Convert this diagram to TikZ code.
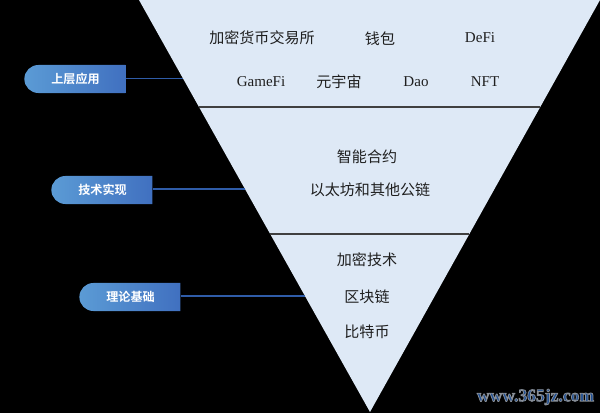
\documentclass[tikz,border=0pt]{standalone}
\usepackage{fontspec}
\setmainfont{Liberation Serif}
\newfontfamily\cjk{Noto Sans CJK SC}[BoldFont={* Bold}]
\usetikzlibrary{positioning,calc,shapes.misc}
\definecolor{paleblue}{HTML}{DEE9F6}
\definecolor{linkblue}{HTML}{2F5CA8}
\definecolor{pillleft}{HTML}{5B9BD5}
\definecolor{pillright}{HTML}{4070C0}
\definecolor{markblue}{HTML}{1F4F94}
\newcommand{\greyedge}[1]{\special{pdf:code q 2 Tr 0.55 w 0.54 0.56 0.59 RG}#1\special{pdf:code Q}}
\tikzset{
	layer/.style={rounded rectangle,rounded rectangle right arc=none,
		left color=pillleft,right color=pillright,
		minimum width=2.525cm,minimum height=0.7cm,inner sep=0pt,
		text=white,font=\cjk\fontsize{8.6}{10}\selectfont\bfseries},
	item/.style={inner sep=0pt,text=black!88,font=\fontsize{10.7}{13}\selectfont},
	citem/.style={item,font=\cjk\fontsize{10.7}{13}\selectfont},
	link/.style={linkblue,line width=0.9pt},
	divider/.style={black!75,line width=0.8pt}
}
\begin{document}
\begin{tikzpicture}[x=0.025cm,y=-0.025cm]
	\fill[black] (0,0) rectangle (600,413);
	\useasboundingbox (0,0) rectangle (600,413);
	\fill[paleblue] (139,0) -- (600,0) -- (370,412) -- cycle;

	% left edge of the funnel
	\coordinate (E1) at (183,78.5);
	\coordinate (E2) at (245,189);
	\coordinate (E3) at (305,296);
	% dividers
	\coordinate (D1) at (199,107);
	\coordinate (D2) at (540,107);
	\coordinate (D3) at (270,234);
	\coordinate (D4) at (469,234);

	\node[layer] (L1) at (75.5,79) {上层应用};
	\node[layer] (L2) at (102.5,190) {技术实现};
	\node[layer] (L3) at (130.5,297) {理论基础};

	\draw[link] (L1.east |- E1) -- (E1);
	\draw[link] (L2.east |- E2) -- (E2);
	\draw[link] (L3.east |- E3) -- (E3);
	\draw[divider] (D1) -- (D2);
	\draw[divider] (D3) -- (D4);

	\node[citem] (A1) at (262,37.5) {加密货币交易所};
	\node[citem] (A2) at (380,38.5) {钱包};
	\node[item]  (A3) at (480,38) {DeFi};
	\node[item]  (A4) at (261,82) {GameFi};
	\node[citem] (A5) at (339,81.5) {元宇宙};
	\node[item]  (A6) at (416,82) {Dao};
	\node[item]  (A7) at (485,82) {NFT};

	\node[citem] (B1) at (367,156.5) {智能合约};
	\node[citem] (B2) at (370,189.5) {以太坊和其他公链};

	\node[citem] (C1) at (367,259.5) {加密技术};
	\node[citem] (C2) at (367,296.5) {区块链};
	\node[citem] (C3) at (367,331.5) {比特币};

	\node[inner sep=0pt,text=markblue,font=\fontsize{12.5}{14}\selectfont\bfseries] (W) at (535.5,397)
		{\greyedge{www.365jz.com}};
\end{tikzpicture}
\end{document}
